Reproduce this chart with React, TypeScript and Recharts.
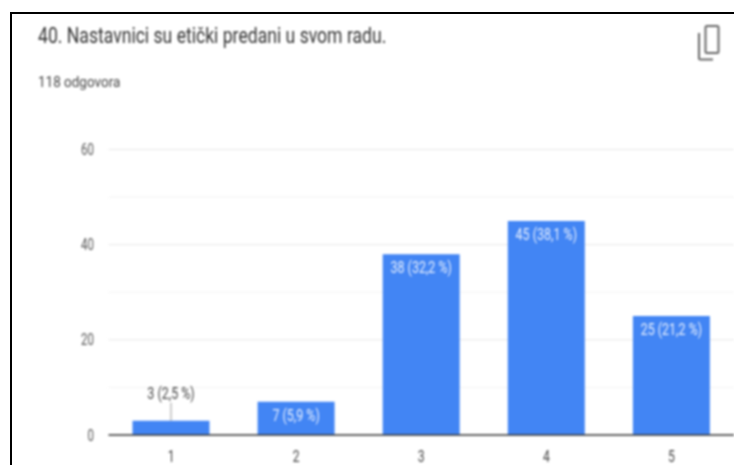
import React from "react"
import { BarChart, Bar, XAxis, YAxis, CartesianGrid, LabelList } from "recharts"

const categories = ["1", "2", "3", "4", "5"]
const answers = [3, 7, 38, 45, 25]
const shares = ["2,5", "5,9", "32,2", "38,1", "21,2"]
const majorTicks = [0, 20, 40, 60]
const minorTicks = [10, 30, 50]

const data = categories.map((name, i) => ({ name, answers: answers[i], label: `${answers[i]} (${shares[i]} %)` }))

const FONT = "Roboto, sans-serif"
const SQUEEZE = 0.78

// the source picture is squashed horizontally, so every text gets a scaleX
function Squeezed({ x, y, anchor, fill, size, scale = SQUEEZE, children }: any) {
  return (
    <text
      transform={`translate(${x} ${y}) scale(${scale} 1)`}
      textAnchor={anchor}
      fill={fill}
      fontSize={size}
      fontFamily={FONT}
    >
      {children}
    </text>
  )
}

const YTick = ({ x, y, payload }: any) => (
  <Squeezed x={x - 0.5} y={y + 5.5} anchor="end" fill="#555" size={16} scale={0.72}>{payload.value}</Squeezed>
)

const XTick = ({ x, y, payload }: any) => (
  <Squeezed x={x} y={y + 19} anchor="middle" fill="#444" size={16} scale={0.76}>{payload.value}</Squeezed>
)

const BarLabel = ({ x, y, width, height, value }: any) => {
  const cx = x + width / 2
  // too short to hold the text: goes above the bar with a leader line
  if (height < 20) {
    return (
      <g>
        <line x1={cx} x2={cx} y1={y - 18} y2={y} stroke="#999" />
        <Squeezed x={cx} y={y - 22} anchor="middle" fill="#444" size={16}>{value}</Squeezed>
      </g>
    )
  }
  return <Squeezed x={cx} y={y + 19} anchor="middle" fill="#e8f0fe" size={16}>{value}</Squeezed>
}

export default function App() {
  return (
    <div style={{ position: "absolute", left: 0, top: 0, width: 734, height: 465, overflow: "hidden", background: "#fff" }}>
      <div style={{ position: "absolute", inset: 0, filter: "blur(0.8px)" }}>
        <BarChart
          width={734}
          height={465}
          data={data}
          margin={{ top: 149.5, right: 0, bottom: 0, left: 0 }}
          barSize={77}
        >
          <CartesianGrid vertical={false} stroke="#f3f3f3" horizontalValues={minorTicks} />
          <CartesianGrid vertical={false} stroke="#e8e8e8" horizontalValues={majorTicks} />
          <YAxis
            width={108.5}
            domain={[0, 60]}
            ticks={majorTicks}
            axisLine={false}
            tickLine={false}
            tickMargin={8}
            tick={<YTick />}
          />
          <XAxis
            dataKey="name"
            height={30}
            axisLine={{ stroke: "#333", strokeWidth: 1.5 }}
            tickLine={false}
            tick={<XTick />}
          />
          <Bar dataKey="answers" fill="#4285f4" isAnimationActive={false}>
            <LabelList dataKey="label" content={<BarLabel />} />
          </Bar>
        </BarChart>

        <svg width={734} height={465} style={{ position: "absolute", left: 0, top: 0 }}>
          <Squeezed x={38} y={43} anchor="start" fill="#333" size={22} scale={0.8}>
            40. Nastavnici su etički predani u svom radu.
          </Squeezed>
          <Squeezed x={38} y={87} anchor="start" fill="#444" size={15} scale={0.9}>
            118 odgovora
          </Squeezed>
          <rect x={705.5} y={26} width={13} height={27} rx={1.5} fill="none" stroke="#666" strokeWidth={2} />
          <path d="M699 33 V58 a1.5 1.5 0 0 0 1.5 1.5 H713" fill="none" stroke="#666" strokeWidth={2} />
        </svg>
      </div>
      {/* the black frame stays crisp in the source */}
      <div style={{ position: "absolute", left: 10, top: 12, width: 724, height: 2, background: "#000" }} />
      <div style={{ position: "absolute", left: 10, top: 12, width: 2, height: 453, background: "#000" }} />
    </div>
  )
}
